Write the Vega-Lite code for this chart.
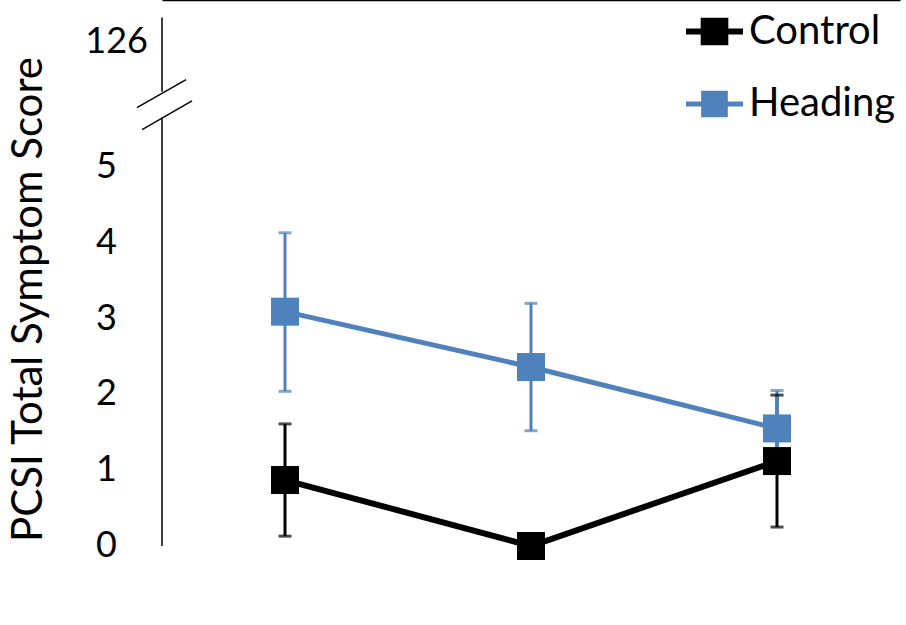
{
  "$schema": "https://vega.github.io/schema/vega-lite/v6.json",
  "width": 738,
  "height": 546,
  "autosize": "none",
  "padding": {"left": 162, "top": 0, "right": 6, "bottom": 79},
  "config": {"view": {"stroke": null}, "font": "Lato"},
  "datasets": {
    "scores": [
      {"group": "Control", "time": "Pre", "mean": 0.87, "lo": 0.13, "hi": 1.61},
      {"group": "Control", "time": "Post 0-hr", "mean": 0, "lo": 0, "hi": 0},
      {"group": "Control", "time": "Post 24-hr", "mean": 1.12, "lo": 0.25, "hi": 1.99},
      {"group": "Heading", "time": "Pre", "mean": 3.09, "lo": 2.04, "hi": 4.13},
      {"group": "Heading", "time": "Post 0-hr", "mean": 2.36, "lo": 1.52, "hi": 3.2},
      {"group": "Heading", "time": "Post 24-hr", "mean": 1.55, "lo": 1.1, "hi": 2.05}
    ],
    "frame": [
      {"x": 0, "x2": 0, "y": 0, "y2": 5.65},
      {"x": 0, "x2": 0, "y": 5.99, "y2": 6.97},
      {"x": -0.102, "x2": 0.098, "y": 5.78, "y2": 6.15},
      {"x": -0.081, "x2": 0.122, "y": 5.49, "y2": 5.87}
    ],
    "ticklabels": [
      {"label": "0", "value": 0},
      {"label": "1", "value": 1},
      {"label": "2", "value": 2},
      {"label": "3", "value": 3},
      {"label": "4", "value": 4},
      {"label": "5", "value": 5},
      {"label": "126", "value": 6.65}
    ]
  },
  "layer": [
    {
      "layer": [
        {
          "data": {"name": "frame"},
          "mark": {"type": "rule", "color": "#000000", "strokeWidth": 1.5},
          "encoding": {
            "x": {"field": "x", "type": "quantitative", "scale": {"domain": [0, 3], "nice": false, "zero": false}, "axis": null},
            "x2": {"field": "x2"},
            "y": {
              "field": "y", "type": "quantitative", "scale": {"domain": [0, 7.2], "nice": false},
              "axis": {
                "title": "PCSI Total Symptom Score", "titleFontSize": 42, "titleFontWeight": "normal", "titleColor": "#000000",
                "titleX": -134, "titleY": 299, "titleAlign": "center", "titleBaseline": "middle", "titleAngle": 270,
                "domain": false, "ticks": false, "grid": false, "labels": false
              }
            },
            "y2": {"field": "y2"}
          }
        },
        {
          "data": {"name": "ticklabels"},
          "transform": [{"filter": "datum.value < 6"}],
          "mark": {"type": "text", "align": "right", "baseline": "middle", "fontSize": 36, "color": "#000000"},
          "encoding": {
            "x": {"datum": -0.183, "type": "quantitative"},
            "y": {"field": "value", "type": "quantitative"},
            "text": {"field": "label", "type": "nominal"}
          }
        },
        {
          "data": {"name": "ticklabels"},
          "transform": [{"filter": "datum.value > 6"}],
          "mark": {"type": "text", "align": "right", "baseline": "middle", "fontSize": 36, "color": "#000000"},
          "encoding": {
            "x": {"datum": -0.057, "type": "quantitative"},
            "y": {"field": "value", "type": "quantitative"},
            "text": {"field": "label", "type": "nominal"}
          }
        }
      ]
    },
    {
      "data": {"name": "scores"},
      "encoding": {
        "x": {
          "field": "time", "type": "ordinal",
          "scale": {"type": "point", "domain": ["Pre", "Post 0-hr", "Post 24-hr"], "padding": 0.5},
          "axis": {"title": null, "ticks": false, "domainColor": "#000000", "domainWidth": 1.5, "labelFontSize": 38, "labelColor": "#000000", "labelPadding": 36, "labelAngle": 0}
        },
        "color": {
          "field": "group", "type": "nominal",
          "scale": {"domain": ["Control", "Heading"], "range": ["#000000", "#4F81BD"]},
          "legend": {
            "title": null, "orient": "none", "legendX": 521, "legendY": 0, "padding": 0,
            "symbolType": "M-1,0H1M-0.38,-0.38H0.38V0.38H-0.38Z",
            "symbolSize": 3249, "symbolStrokeWidth": 4, "rowPadding": 18,
            "labelFontSize": 40, "labelColor": "#000000", "labelOffset": 3,
            "encode": {"symbols": {"update": {"stroke": {"scale": "color", "field": "value"}, "fill": {"scale": "color", "field": "value"}, "strokeWidth": {"value": 5}}}}
          }
        }
      },
      "layer": [
        {
          "mark": {"type": "rule", "strokeWidth": 3},
          "encoding": {
            "y": {"field": "lo", "type": "quantitative", "scale": {"domain": [0, 7.2], "nice": false}},
            "y2": {"field": "hi"}
          }
        },
        {
          "transform": [{"fold": ["lo", "hi"], "as": ["end", "bound"]}],
          "mark": {"type": "tick", "orient": "horizontal", "size": 13, "thickness": 3},
          "encoding": {"y": {"field": "bound", "type": "quantitative"}}
        },
        {
          "mark": {"type": "line"},
          "encoding": {
            "y": {"field": "mean", "type": "quantitative"},
            "strokeWidth": {"field": "group", "type": "nominal", "scale": {"domain": ["Control", "Heading"], "range": [6, 5]}, "legend": null}
          }
        },
        {
          "mark": {"type": "point", "shape": "square", "filled": true, "opacity": 1, "size": 784},
          "encoding": {"y": {"field": "mean", "type": "quantitative"}}
        }
      ]
    }
  ],
  "resolve": {"scale": {"x": "independent"}}
}
